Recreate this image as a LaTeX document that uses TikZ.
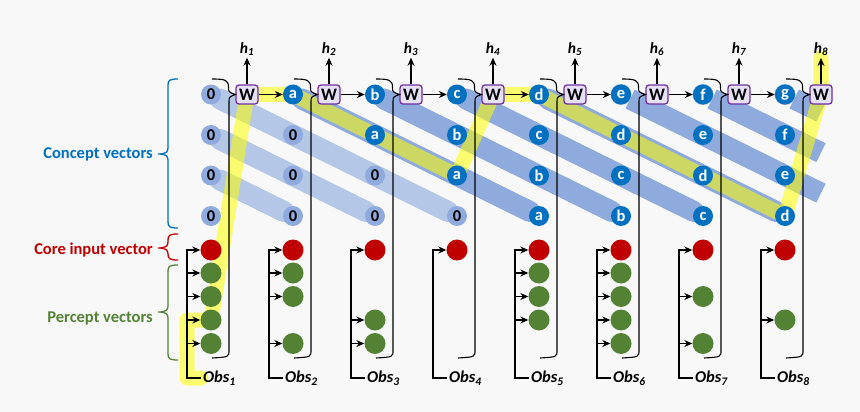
\documentclass[tikz,border=0pt]{standalone}
\usepackage{fontspec}
\setmainfont{Carlito}
\usetikzlibrary{arrows.meta,calc}
\pgfdeclarelayer{bg}
\pgfsetlayers{bg,main}

\definecolor{paper}{RGB}{248,248,248}
\definecolor{conceptblue}{RGB}{0,112,192}
\definecolor{bandblue}{RGB}{143,170,220}
\definecolor{zeroband}{RGB}{180,199,231}
\definecolor{corered}{RGB}{192,0,0}
\definecolor{perceptgreen}{RGB}{84,130,53}
\definecolor{wpurple}{RGB}{112,48,160}
\definecolor{wfill}{RGB}{230,224,246}
\definecolor{hiyellow}{RGB}{255,255,0}

\begin{document}
\begin{tikzpicture}[x=1pt,y=-1pt]
  \tikzset{
    concept/.style={
      circle,
      fill=conceptblue,
      text=white,
      minimum size=20pt,
      inner sep=0pt,
      font=\bfseries\fontsize{16.5}{16.5}\selectfont
    },
    zero/.style={concept, fill=bandblue, text=black},
    core/.style={circle, fill=corered, minimum size=21pt, inner sep=0pt},
    percept/.style={circle, fill=perceptgreen, minimum size=21pt, inner sep=0pt},
    wbox/.style={
      draw=wpurple,
      fill=wfill,
      line width=1.3pt,
      rounded corners=3pt,
      minimum width=22pt,
      minimum height=19pt,
      inner sep=0pt,
      font=\bfseries\fontsize{17.5}{17.5}\selectfont
    },
    hlab/.style={font=\bfseries\itshape\fontsize{15.5}{15.5}\selectfont, inner sep=2pt},
    obslab/.style={font=\bfseries\itshape\fontsize{16.5}{16.5}\selectfont, anchor=west, inner sep=2pt},
    sidelab/.style={font=\bfseries\fontsize{16.5}{16.5}\selectfont, anchor=east, inner sep=0pt},
    band/.style={draw=bandblue, line width=21pt, line cap=round},
    wire/.style={line width=1.1pt},
    arr/.style={wire, -{Stealth[length=8pt,width=7pt]}},
    hilite/.style={draw=hiyellow, line width=15pt, opacity=0.55, line cap=round, line join=round}
  }

  % concept vectors
  \foreach \i in {1,...,8} {
    \foreach \k in {1,...,4} {
      \pgfmathtruncatemacro\d{\i-\k}
      \pgfmathsetmacro\cx{211+82*(\i-1)}
      \pgfmathsetmacro\cy{94.5+40.5*(\k-1)}
      \ifnum\d<1
        \node[zero] (c-\i-\k) at (\cx,\cy) {0};
      \else
        \node[concept] (c-\i-\k) at (\cx,\cy) {\ifcase\d\or a\or b\or c\or d\or e\or f\or g\fi};
      \fi
    }
  }

  % core input, W, outputs, observations
  \foreach \i in {1,...,8} {
    \pgfmathsetmacro\cx{211+82*(\i-1)}
    \node[core] (r-\i) at (\cx,250) {};
    \node[wbox] (W-\i) at (\cx+36,94.5) {W};
    \node[hlab] (h-\i) at (\cx+36,49) {h\textsubscript{\i}};
    \node[obslab] (obs-\i) at (\cx-10,378) {Obs\textsubscript{\i}};
    \coordinate (L-\i) at (\cx-24,250);
  }

  % percept vectors
  \foreach \i/\k in {1/1,1/2,1/3,1/4,2/1,2/2,2/4,3/3,3/4,5/1,5/2,5/3,6/1,6/2,6/3,6/4,7/2,7/4,8/3} {
    \pgfmathsetmacro\cx{211+82*(\i-1)}
    \pgfmathsetmacro\cy{273+23.5*(\k-1)}
    \node[percept] (p-\i-\k) at (\cx,\cy) {};
    \draw[arr] (L-\i |- p-\i-\k) -- (p-\i-\k);
  }

  % wiring per step
  \foreach \i in {1,...,8} {
    \pgfmathsetmacro\cx{211+82*(\i-1)}
    \draw[arr] (obs-\i.west) -| (L-\i) -- (r-\i);
    \draw[arr] (W-\i) -- (h-\i);
    \draw[wire] (\cx+1,79) .. controls (\cx+14,79) and (\cx+17.5,80) .. (\cx+17.5,87)
      .. controls (\cx+17.5,92) .. (W-\i.west)
      .. controls (\cx+18,97) .. (\cx+18,102) -- (\cx+18,350)
      .. controls (\cx+18,357) .. (\cx+1,358);
  }
  \foreach \i [evaluate=\i as \j using int(\i+1)] in {1,...,7}
    \draw[arr] (W-\i) -- (c-\j-1);

  % side braces
  \foreach \ytop/\ymid/\ybot/\ylab/\colr/\n/\txt in {
      79/154/228/154/conceptblue/concept/Concept vectors,
      234/248/260/250/corered/core/Core input vector,
      265/312/360/318/perceptgreen/percept/Percept vectors} {
    \draw[\colr, line width=1.3pt] (178,\ytop) .. controls (170,\ytop) and (168,\ytop+1) .. (168,\ytop+6)
      -- (168,\ymid-6) .. controls (168,\ymid-2) and (166,\ymid) .. (158,\ymid)
      .. controls (166,\ymid) and (168,\ymid+2) .. (168,\ymid+6)
      -- (168,\ybot-6) .. controls (168,\ybot-1) and (170,\ybot) .. (178,\ybot);
    \node[sidelab, text=\colr] (lab-\n) at (153,\ylab) {\txt};
  }

  \begin{pgfonlayer}{bg}
    \fill[paper] (0,0) rectangle (860,412);
    % shift bands
    \draw[band, draw=zeroband] (c-1-1) -- (c-4-4);
    \draw[band, draw=zeroband] (c-1-2) -- (c-3-4);
    \draw[band, draw=zeroband] (c-1-3) -- (c-2-4);
    \foreach \s/\e in {2/5,3/6,4/7,5/8}
      \draw[band] (c-\s-1) -- (c-\e-4);
    \foreach \s/\b in {6/3,7/2,8/1} {
      \draw[band, line cap=butt] (c-\s-1) -- ($(c-8-\b)+(36,17.7)$);
      \fill[bandblue] (c-\s-1) circle (10.5pt);
    }
    % highlighted path
    \draw[hilite] (obs-1.west) -- (L-1 |- obs-1.west) |- (p-1-3.center) -- (W-1.center)
      -- (c-2-1.center) -- (c-4-3.center) -- (W-4.center) -- (c-5-1.center)
      -- (c-8-4.center) -- (W-8.center) -- (h-8.south);
  \end{pgfonlayer}
\end{tikzpicture}
\end{document}
